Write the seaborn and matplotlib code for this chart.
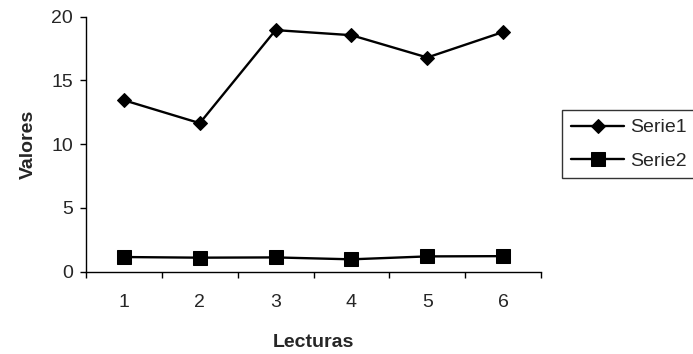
import matplotlib
matplotlib.use("Agg")
import matplotlib.pyplot as plt
import seaborn as sns
import pandas as pd
from matplotlib.ticker import FixedLocator, NullFormatter

# Readings (Lecturas) and measured values for each series
lecturas = [1, 2, 3, 4, 5, 6]
serie1 = [13.45, 11.65, 18.95, 18.55, 16.8, 18.8]
serie2 = [1.15, 1.1, 1.12, 0.97, 1.2, 1.22]
y_ticks = [0, 5, 10, 15, 20]

FS = 14

sns.set_theme(style="white")
plt.rcParams["font.family"] = ["Liberation Sans", "DejaVu Sans"]

df1 = pd.DataFrame({"Lecturas": lecturas, "Valores": serie1})
df2 = pd.DataFrame({"Lecturas": lecturas, "Valores": serie2})

fig = plt.figure(figsize=(6.93, 3.54), dpi=100)
ax = fig.add_axes([0.1241, 0.2325, 0.6566, 0.7203])

sns.lineplot(data=df1, x="Lecturas", y="Valores", ax=ax, color="black",
             marker="D", markersize=7.5, linewidth=1.7, label="Serie1",
             markeredgecolor="black")
sns.lineplot(data=df2, x="Lecturas", y="Valores", ax=ax, color="black",
             marker="s", markersize=10, linewidth=1.7, label="Serie2",
             markeredgecolor="black")

ax.set_xlim(0.5, 6.5)
ax.set_ylim(0, 20)
ax.set_yticks(y_ticks)
ax.set_yticklabels([str(v) for v in y_ticks], fontsize=FS)

# category boundaries carry the tick marks, labels sit between them
ax.xaxis.set_major_locator(FixedLocator([0.5 + i for i in range(7)]))
ax.xaxis.set_major_formatter(NullFormatter())
ax.set_xticks(lecturas, minor=True)
ax.set_xticklabels([str(v) for v in lecturas], minor=True, fontsize=FS)
ax.tick_params(axis="x", which="major", direction="out", length=4.5,
               width=1, color="black", bottom=True)
ax.tick_params(axis="x", which="minor", length=0, pad=16, bottom=True)
ax.tick_params(axis="y", direction="out", length=4.5, width=1,
               color="black", left=True, pad=5)

for side in ("top", "right"):
    ax.spines[side].set_visible(False)
for side in ("left", "bottom"):
    ax.spines[side].set_color("black")
    ax.spines[side].set_linewidth(1)

ax.set_xlabel("Lecturas", fontsize=FS, fontweight="bold", labelpad=16.5)
ax.set_ylabel("Valores", fontsize=FS, fontweight="bold", labelpad=10)
ax.grid(False)

leg = ax.legend(loc="upper left", bbox_to_anchor=(0.811, 0.689),
                bbox_transform=fig.transFigure, fontsize=FS, frameon=True,
                fancybox=False, edgecolor="black", handlelength=2.75,
                handletextpad=0.3, labelspacing=0.8, borderpad=0.45,
                borderaxespad=0)
leg.get_frame().set_linewidth(1)

fig.savefig("out.png", dpi=100)
